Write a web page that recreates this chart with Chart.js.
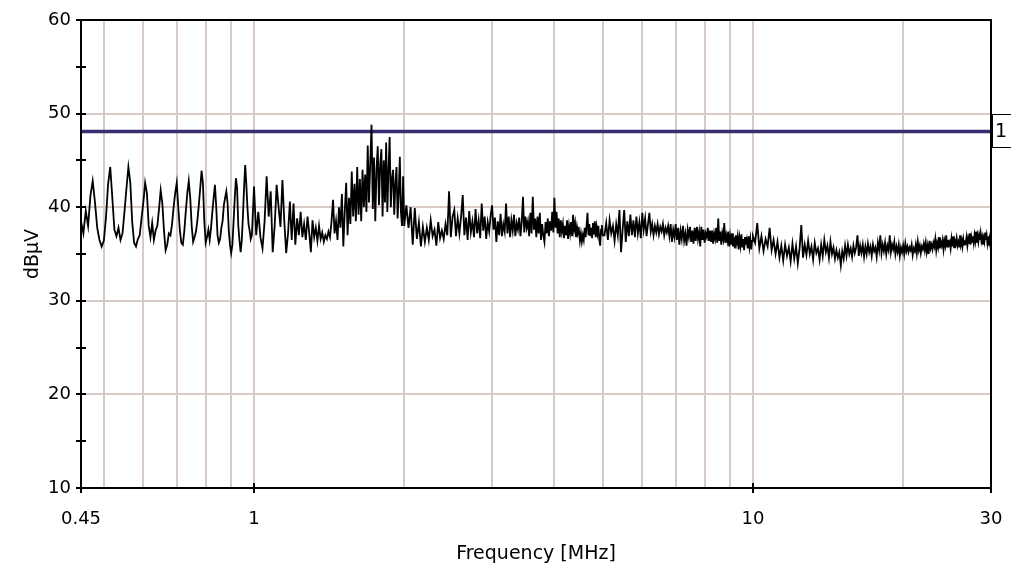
<!DOCTYPE html>
<html><head><meta charset="utf-8">
<script src="https://cdn.jsdelivr.net/npm/chart.js@4.4.1/dist/chart.umd.min.js"></script>
<style>html,body{margin:0;padding:0;background:#fff;overflow:hidden}canvas{display:block}</style>
</head><body>
<canvas id="c" width="1011" height="569"></canvas>
<script>
// ---- Data (frequency in MHz, level in dBµV) ----
const freqA = [
0.450,0.455,0.460,0.465,0.470,0.475,0.480,0.485,0.490,0.495,
0.500,0.505,0.510,0.515,0.520,0.525,0.530,0.535,0.540,0.545,
0.550,0.555,0.560,0.565,0.570,0.575,0.580,0.585,0.590,0.595,
0.600,0.605,0.610,0.615,0.620,0.625,0.630,0.635,0.640,0.645,
0.650,0.655,0.660,0.665,0.670,0.675,0.680,0.685,0.690,0.695,
0.700,0.705,0.710,0.715,0.720,0.725,0.730,0.735,0.740,0.745,
0.750,0.755,0.760,0.765,0.770,0.775,0.780,0.785,0.790,0.795,
0.800,0.805,0.810,0.815,0.820,0.825,0.830,0.835,0.840,0.845,
0.850,0.855,0.860,0.865,0.870,0.875,0.880,0.885,0.890,0.895,
0.900,0.905,0.910,0.915,0.920,0.925,0.930,0.935,0.940,0.945,
0.950,0.955,0.960,0.965,0.970,0.975,0.980,0.985,0.990,0.995,
1.000];
const levelA = [
38.5,37.2,39.6,38.0,41.2,42.8,40.5,37.8,36.5,35.8,
36.4,38.9,42.5,44.3,41.0,37.6,36.9,37.8,36.5,37.2,
39.5,42.0,44.3,42.6,38.4,36.2,35.8,36.6,37.0,38.8,
40.5,42.6,41.5,38.0,36.8,38.3,36.5,37.5,38.0,39.8,
41.8,40.4,37.5,35.4,36.0,37.2,37.0,38.2,40.0,41.5,
42.6,40.0,37.6,36.2,36.0,37.5,39.6,41.5,42.8,41.0,
38.0,36.3,36.8,37.4,38.6,40.2,42.0,43.9,42.5,38.5,
36.2,36.8,37.6,36.5,37.8,39.5,41.0,42.4,40.0,37.0,
36.2,36.6,37.8,38.5,40.2,41.0,41.7,40.5,37.5,36.0,
35.1,36.0,38.5,41.0,43.1,42.0,38.0,36.5,35.2,36.4,
39.0,42.0,44.5,42.5,40.0,38.2,37.5,36.6,37.0,39.5,
42.2];

const freqB = [
1.01,1.02,1.03,1.04,1.05,1.06,1.07,1.08,1.09,1.10,
1.11,1.12,1.13,1.14,1.15,1.16,1.17,1.18,1.19,1.20,
1.21,1.22,1.23,1.24,1.25,1.26,1.27,1.28,1.29,1.30,
1.31,1.32,1.33,1.34,1.35,1.36,1.37,1.38,1.39,1.40,
1.41,1.42,1.43,1.44,1.45,1.46,1.47,1.48,1.49,1.50,
1.51,1.52,1.53,1.54,1.55,1.56,1.57,1.58,1.59,1.60,
1.61,1.62,1.63,1.64,1.65,1.66,1.67,1.68,1.69,1.70,
1.71,1.72,1.73,1.74,1.75,1.76,1.77,1.78,1.79,1.80,
1.81,1.82,1.83,1.84,1.85,1.86,1.87,1.88,1.89,1.90,
1.91,1.92,1.93,1.94,1.95,1.96,1.97,1.98,1.99,2.00];
const levelB = [
37.0,39.5,36.8,35.6,38.5,43.3,39.0,41.7,35.2,38.0,
42.4,40.0,37.9,42.9,38.5,35.1,37.2,40.6,36.5,40.4,
36.0,38.8,37.0,39.5,36.8,38.2,36.5,39.0,37.3,35.2,
38.6,36.8,37.8,36.4,38.0,36.6,37.3,36.3,37.0,36.6,
37.4,36.8,38.5,40.8,37.2,38.5,36.5,40.0,37.8,41.4,
35.8,39.5,42.6,37.0,41.0,38.2,43.8,39.0,42.5,38.5,
44.3,39.2,43.0,38.5,44.0,40.0,43.5,39.5,46.6,40.5,
44.8,48.8,39.8,45.3,38.5,44.0,46.5,40.2,44.5,46.2,
39.0,45.0,40.5,46.9,39.5,44.0,47.5,40.0,43.0,44.0,
39.2,42.5,44.3,38.8,41.5,45.4,39.5,38.0,43.3,38.0];

const freqC = [
2.02,2.04,2.06,2.08,2.10,2.12,2.14,2.16,2.18,2.20,
2.22,2.24,2.26,2.28,2.30,2.32,2.34,2.36,2.38,2.40,
2.42,2.44,2.46,2.48,2.50,2.52,2.54,2.56,2.58,2.60,
2.62,2.64,2.66,2.68,2.70,2.72,2.74,2.76,2.78,2.80,
2.82,2.84,2.86,2.88,2.90,2.92,2.94,2.96,2.98,3.00,
3.02,3.04,3.06,3.08,3.10,3.12,3.14,3.16,3.18,3.20,
3.22,3.24,3.26,3.28,3.30,3.32,3.34,3.36,3.38,3.40,
3.42,3.44,3.46,3.48,3.50,3.52,3.54,3.56,3.58,3.60,
3.62,3.64,3.66,3.68,3.70,3.72,3.74,3.76,3.78,3.80,
3.82,3.84,3.86,3.88,3.90,3.92,3.94,3.96,3.98,4.00,
4.02,4.04,4.06,4.08,4.10,4.12,4.14,4.16,4.18,4.20,
4.22,4.24,4.26,4.28,4.30,4.32,4.34,4.36,4.38,4.40,
4.42,4.44,4.46,4.48,4.50,4.52,4.54,4.56,4.58,4.60,
4.62,4.64,4.66,4.68,4.70,4.72,4.74,4.76,4.78,4.80,
4.82,4.84,4.86,4.88,4.90,4.92,4.94,4.96,4.98,5.00];
const levelC = [
40.2,37.8,40.0,36.0,39.9,36.6,38.4,35.8,37.9,36.3,
37.8,36.5,38.6,36.9,37.6,35.9,38.4,36.7,37.5,36.6,
38.2,37.0,41.7,36.8,39.0,39.7,36.9,38.8,37.2,39.0,
41.3,37.0,38.9,36.5,39.6,37.3,38.5,36.8,39.8,37.2,
38.6,36.7,40.4,37.5,39.0,36.6,38.4,37.4,39.1,40.2,
37.6,38.9,36.3,38.5,37.0,39.3,36.9,38.2,37.4,40.4,
37.2,39.0,36.8,38.6,37.5,39.2,36.9,38.3,37.6,38.9,
36.9,38.4,41.1,37.3,39.0,37.8,38.5,36.9,39.4,37.2,
41.1,37.6,38.8,36.8,39.0,37.2,39.4,36.5,38.2,37.0,
36.3,38.4,37.2,38.8,36.9,38.5,37.5,39.5,37.3,41.0,
37.8,39.5,37.2,38.8,36.8,38.6,37.4,38.2,36.7,38.0,
37.0,38.6,36.6,38.0,37.2,38.4,36.9,39.2,37.6,38.3,
36.8,37.9,37.2,37.5,36.4,37.2,36.3,37.0,36.5,37.8,
36.8,38.0,39.4,37.0,38.2,36.9,37.8,36.7,38.3,37.1,
38.5,36.8,37.9,37.2,38.0,36.6,35.9,37.6,38.1,37.0];

const freqD = [
5.04,5.08,5.12,5.16,5.20,5.24,5.28,5.32,5.36,5.40,
5.44,5.48,5.52,5.56,5.60,5.64,5.68,5.72,5.76,5.80,
5.84,5.88,5.92,5.96,6.00,6.04,6.08,6.12,6.16,6.20,
6.24,6.28,6.32,6.36,6.40,6.44,6.48,6.52,6.56,6.60,
6.64,6.68,6.72,6.76,6.80,6.84,6.88,6.92,6.96,7.00,
7.04,7.08,7.12,7.16,7.20,7.24,7.28,7.32,7.36,7.40,
7.44,7.48,7.52,7.56,7.60,7.64,7.68,7.72,7.76,7.80,
7.84,7.88,7.92,7.96,8.00,8.04,8.08,8.12,8.16,8.20,
8.24,8.28,8.32,8.36,8.40,8.44,8.48,8.52,8.56,8.60,
8.64,8.68,8.72,8.76,8.80,8.84,8.88,8.92,8.96,9.00,
9.04,9.08,9.12,9.16,9.20,9.24,9.28,9.32,9.36,9.40,
9.44,9.48,9.52,9.56,9.60,9.64,9.68,9.72,9.76,9.80,
9.84,9.88,9.92,9.96,10.00];
const levelD = [
37.0,38.3,36.5,38.6,37.2,38.0,36.4,38.2,37.0,39.7,
35.2,37.6,39.7,36.3,38.5,36.9,39.2,37.0,38.6,36.8,
39.0,37.2,38.4,36.7,39.4,37.6,38.8,36.9,38.2,39.4,
37.4,38.2,37.0,38.0,37.3,38.2,37.1,37.9,37.4,38.2,
37.0,37.8,37.3,38.0,36.9,38.2,36.3,37.6,36.8,38.2,
36.5,37.8,36.0,37.5,36.6,38.0,36.4,37.2,35.9,37.6,
36.8,37.9,36.3,37.5,36.1,37.8,36.4,37.9,36.6,37.4,
35.8,37.9,36.5,37.6,36.2,37.2,36.8,37.8,36.4,37.5,
36.3,37.5,36.1,37.2,36.6,37.8,36.2,38.8,36.4,37.4,
36.0,37.2,36.6,38.3,36.2,37.0,36.4,37.4,35.8,36.9,
36.0,37.2,35.8,36.8,35.6,37.0,36.2,36.9,35.5,36.7,
35.9,37.1,35.7,36.6,35.4,36.8,36.0,36.5,35.6,36.9,
35.8,36.6,35.5,36.4,36.9];

const freqE = [
10.1,10.2,10.3,10.4,10.5,10.6,10.7,10.8,10.9,11.0,
11.1,11.2,11.3,11.4,11.5,11.6,11.7,11.8,11.9,12.0,
12.1,12.2,12.3,12.4,12.5,12.6,12.7,12.8,12.9,13.0,
13.1,13.2,13.3,13.4,13.5,13.6,13.7,13.8,13.9,14.0,
14.1,14.2,14.3,14.4,14.5,14.6,14.7,14.8,14.9,15.0,
15.1,15.2,15.3,15.4,15.5,15.6,15.7,15.8,15.9,16.0,
16.1,16.2,16.3,16.4,16.5,16.6,16.7,16.8,16.9,17.0,
17.1,17.2,17.3,17.4,17.5,17.6,17.7,17.8,17.9,18.0,
18.1,18.2,18.3,18.4,18.5,18.6,18.7,18.8,18.9,19.0,
19.1,19.2,19.3,19.4,19.5,19.6,19.7,19.8,19.9,20.0,
20.1,20.2,20.3,20.4,20.5,20.6,20.7,20.8,20.9,21.0,
21.1,21.2,21.3,21.4,21.5,21.6,21.7,21.8,21.9,22.0,
22.1,22.2,22.3,22.4,22.5,22.6,22.7,22.8,22.9,23.0,
23.1,23.2,23.3,23.4,23.5,23.6,23.7,23.8,23.9,24.0,
24.1,24.2,24.3,24.4,24.5,24.6,24.7,24.8,24.9,25.0,
25.1,25.2,25.3,25.4,25.5,25.6,25.7,25.8,25.9,26.0,
26.1,26.2,26.3,26.4,26.5,26.6,26.7,26.8,26.9,27.0,
27.1,27.2,27.3,27.4,27.5,27.6,27.7,27.8,27.9,28.0,
28.1,28.2,28.3,28.4,28.5,28.6,28.7,28.8,28.9,29.0,
29.1,29.2,29.3,29.4,29.5,29.6,29.7,29.8,29.9,30.0];
const levelE = [
36.2,38.3,35.6,36.9,35.3,36.6,35.8,37.8,35.4,36.5,
35.0,36.3,34.6,35.9,34.3,36.0,34.8,35.7,34.2,36.1,
34.5,35.8,34.0,35.6,38.1,34.6,36.0,34.9,36.4,35.0,
35.8,34.4,36.2,35.1,35.6,34.4,36.0,34.8,36.5,35.2,
35.9,34.6,36.3,35.0,35.7,34.5,35.4,34.6,35.2,33.8,
35.3,34.5,35.9,34.8,36.0,35.0,35.6,34.7,35.9,35.1,
35.7,37.0,34.8,35.9,35.1,36.0,34.7,35.8,35.0,36.1,
35.2,35.8,34.8,36.0,35.3,35.7,34.7,36.2,35.4,37.0,
35.1,36.0,35.3,36.2,35.0,35.9,35.4,37.0,35.2,36.0,
35.5,36.3,35.0,35.8,35.2,36.0,34.8,35.7,35.2,35.9,
35.0,36.1,35.3,35.8,35.2,35.7,35.4,36.0,34.9,35.6,
35.3,36.0,35.1,36.3,35.4,35.9,35.1,35.8,35.5,36.1,
35.4,36.2,35.2,35.9,35.0,36.4,35.6,36.0,35.5,36.2,
35.8,36.6,35.4,36.2,35.7,36.8,35.6,36.3,35.9,36.5,
35.5,36.4,35.9,37.0,35.8,36.5,36.0,36.3,35.6,36.6,
35.8,36.9,35.7,36.4,36.1,36.7,35.9,36.3,35.8,37.0,
36.0,36.5,35.8,36.6,36.0,36.3,36.2,36.8,35.9,36.6,
36.1,37.2,36.0,36.8,36.3,36.9,36.2,37.0,36.4,37.4,
36.2,36.9,36.3,37.0,36.5,37.2,36.4,36.8,36.0,36.7,
36.3,37.3,36.5,37.0,36.2,36.9,35.9,36.6,36.0,36.3];

// Limit line
const limitLevel = 48.1;
const limitLabel = '1';

// Axes
const xMin = 0.45, xMax = 30;
const yMin = 10, yMax = 60;
const xGridValues = [0.45,0.5,0.6,0.7,0.8,0.9,1,2,3,4,5,6,7,8,9,10,20,30];
const xLabelValues = [0.45,1,10,30];
const xTickLabels = ['0.45','1','10','30'];
const xTickMarks = [0.45,1,10,30];
const yTickValues = [10,20,30,40,50,60];
const yTickLabels = ['10','20','30','40','50','60'];
const yMinorMarks = [15,25,35,45,55];
const xTitle = 'Frequency [MHz]';
const yTitle = 'dBµV';

// ---- Build chart ----
const freqs = [].concat(freqA, freqB, freqC, freqD, freqE);
const levels = [].concat(levelA, levelB, levelC, levelD, levelE);
const tracePoints = freqs.map((f, i) => ({x: f, y: levels[i]}));
const limitPoints = [{x: xMin, y: limitLevel}, {x: xMax, y: limitLevel}];

const FONT = "'DejaVu Sans', 'Liberation Sans', sans-serif";
const GRID = '#d8cac4';
const TRANSP = 'rgba(0,0,0,0)';

const frame = {
  id: 'frame',
  beforeDraw(chart) {
    const c = chart.ctx;
    c.save(); c.fillStyle = '#fff'; c.fillRect(0, 0, chart.width, chart.height); c.restore();
  },
  afterDraw(chart) {
    const c = chart.ctx, a = chart.chartArea, xs = chart.scales.x, ys = chart.scales.y;
    c.save();
    c.strokeStyle = '#000';
    c.lineWidth = 2;
    c.strokeRect(a.left, a.top, a.right - a.left, a.bottom - a.top);
    c.beginPath();
    yTickValues.concat(yMinorMarks).forEach(v => {
      const py = Math.round(ys.getPixelForValue(v));
      c.moveTo(a.left - 5, py); c.lineTo(a.left + 5, py);
    });
    xTickMarks.forEach(v => {
      const px = Math.round(xs.getPixelForValue(v));
      c.moveTo(px, a.bottom - 5); c.lineTo(px, a.bottom + 5);
    });
    c.stroke();
    // limit label box
    const ly = ys.getPixelForValue(limitLevel);
    c.lineWidth = 1;
    c.strokeRect(a.right + 1.5, Math.round(ly) - 16.5, 30, 33);
    c.fillStyle = '#000';
    c.font = '19px ' + FONT;
    c.textAlign = 'left';
    c.textBaseline = 'middle';
    c.fillText(limitLabel, a.right + 4, ly + 1);
    c.restore();
  }
};

new Chart(document.getElementById('c'), {
  type: 'line',
  data: {
    datasets: [
      {data: tracePoints, borderColor: '#000', borderWidth: 1.8, pointRadius: 0, tension: 0, fill: false},
      {data: limitPoints, borderColor: '#3a2e72', borderWidth: 3.5, pointRadius: 0, tension: 0, fill: false}
    ]
  },
  options: {
    responsive: false,
    animation: false,
    events: [],
    layout: {padding: {top: 20, right: 20, left: 0, bottom: 0}},
    plugins: {legend: {display: false}, tooltip: {enabled: false}, title: {display: false}},
    scales: {
      x: {
        type: 'logarithmic', min: xMin, max: xMax, bounds: 'data',
        afterFit(s) { s.height = 81; s.paddingLeft = 0; s.paddingRight = 0; },
        afterBuildTicks(s) { s.ticks = xGridValues.map(v => ({value: v})); },
        ticks: {
          autoSkip: false, maxRotation: 0, minRotation: 0, padding: 21, color: '#000',
          font: {family: FONT, size: 18},
          callback: (v) => { const i = xLabelValues.indexOf(v); return i >= 0 ? xTickLabels[i] : ''; }
        },
        grid: {
          drawTicks: false, lineWidth: 2,
          color: (ctx) => (ctx.tick && (ctx.tick.value === xMin || ctx.tick.value === xMax)) ? TRANSP : GRID
        },
        border: {display: false},
        title: {display: true, text: xTitle, color: '#000', font: {family: FONT, size: 19}, padding: {top: 0, bottom: 4}}
      },
      y: {
        min: yMin, max: yMax,
        afterFit(s) { s.width = 81; s.paddingTop = 0; s.paddingBottom = 0; },
        afterBuildTicks(s) { s.ticks = yTickValues.map(v => ({value: v})); },
        ticks: {
          padding: 10, color: '#000', font: {family: FONT, size: 18},
          callback: (v) => { const i = yTickValues.indexOf(v); return i >= 0 ? yTickLabels[i] : ''; }
        },
        grid: {
          drawTicks: false, lineWidth: 2,
          color: (ctx) => (ctx.tick && (ctx.tick.value === yMin || ctx.tick.value === yMax)) ? TRANSP : GRID
        },
        border: {display: false},
        title: {display: true, text: yTitle, color: '#000', font: {family: FONT, size: 19}, padding: {top: 22, bottom: 0}}
      }
    }
  },
  plugins: [frame]
});
</script>
</body></html>
